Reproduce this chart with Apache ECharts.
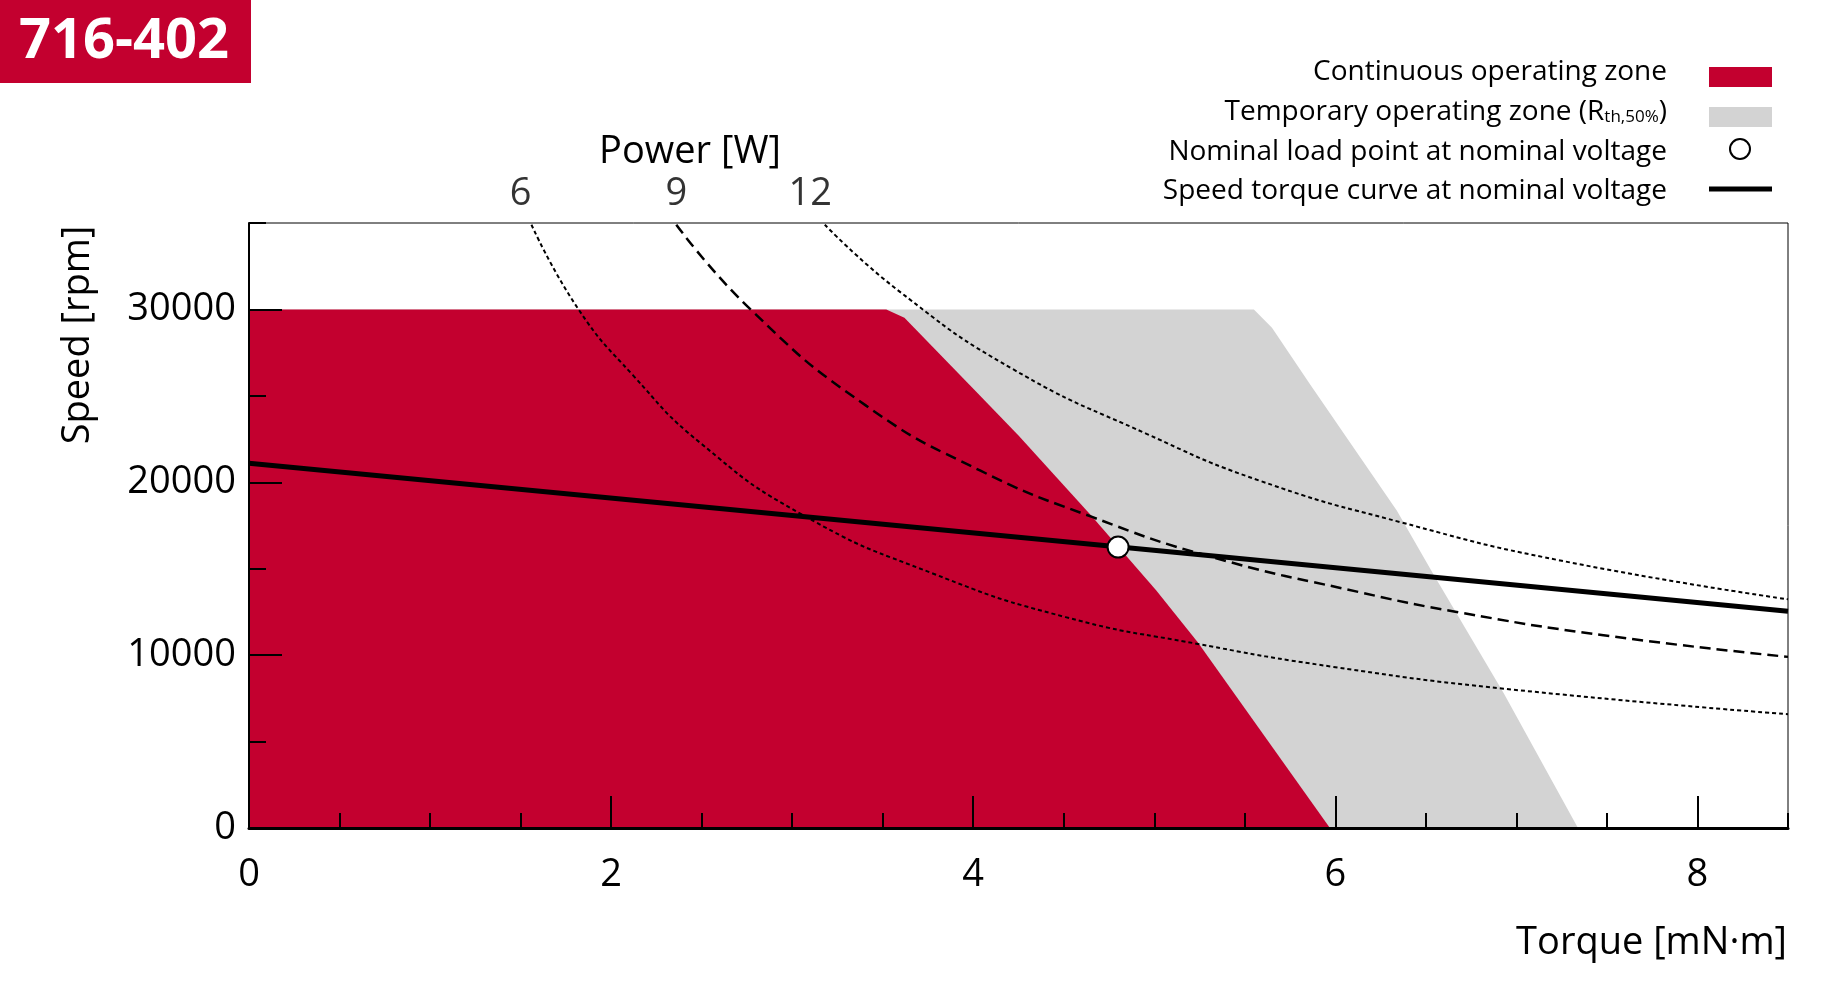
<!DOCTYPE html>
<html>
<head>
<meta charset="utf-8">
<script src="https://cdn.jsdelivr.net/npm/echarts@6/dist/echarts.min.js"></script>
<style>
html,body{margin:0;padding:0;background:#fff;}
#chart{width:1834px;height:992px;}
</style>
</head>
<body>
<div id="chart"></div>
<script>
// ---- data ----
const torqueMajorTicks = [0, 2, 4, 6, 8];
const speedMajorTicks = [0, 10000, 20000, 30000];

const continuousTorque = [0, 3.52, 3.62, 4.03, 4.25, 4.65, 5.01, 5.24, 5.97];
const continuousSpeed  = [30000, 30000, 29520, 25100, 22700, 18100, 13750, 10750, 0];

const temporaryTorque = [0, 5.55, 5.65, 5.86, 6.34, 6.54, 6.93, 7.34];
const temporarySpeed  = [30000, 30000, 28940, 25670, 18360, 14710, 7790, 0];

const speedCurveTorque = [0, 8.5];
const speedCurveSpeed  = [21100, 12540];

const nominalTorque = [4.80];
const nominalSpeed  = [16250];

const power6Torque = [1.56, 1.82, 2.12, 2.49, 3.06, 3.78, 4.51, 5.24, 5.99, 6.93, 8.5];
const power6Speed  = [34900, 30000, 26200, 22300, 18100, 14710, 12200, 10650, 9320, 8060, 6580];

const power9Torque = [2.36, 2.77, 3.41, 4.04, 4.66, 5.32, 6.13, 6.67, 7.48, 8.5];
const power9Speed  = [34900, 30000, 24420, 20670, 17980, 15670, 13650, 12500, 11150, 9900];

const power12Torque = [3.18, 3.59, 4.22, 4.96, 5.58, 6.36, 7.24, 8.5];
const power12Speed  = [34900, 31060, 26540, 22790, 20100, 17690, 15480, 13230];

const powerLabels = ['6', '9', '12'];
const powerLabelTorque = [1.50, 2.36, 3.10];
const powerLabelSpeed = [35000, 35000, 35000];

const legendLabels = [
  'Continuous operating zone',
  'Temporary operating zone',
  'Nominal load point at nominal voltage',
  'Speed torque curve at nominal voltage'
];

// ---- helpers ----
const zip = (a, b) => a.map((v, i) => [v, b[i]]);
const FONT = '"Open Sans", "Noto Sans", sans-serif';
const RED = '#c3002f';
const GRAY = '#d3d3d3';

const chart = echarts.init(document.getElementById('chart'), null, {renderer: 'canvas'});

const G = {left: 249, top: 223, width: 1539, height: 605};

const option = {
  animation: false,
  backgroundColor: '#fff',
  grid: {left: G.left, top: G.top, width: G.width, height: G.height, show: true,
         borderColor: '#000', borderWidth: 1, backgroundColor: 'transparent', containLabel: false},
  xAxis: [
    {
      type: 'value', min: 0, max: 8.5, position: 'bottom', z: 10,
      axisLine: {show: true, onZero: false, lineStyle: {color: '#000', width: 3}},
      axisTick: {show: true, inside: true, length: 32, lineStyle: {color: '#000', width: 2}, customValues: torqueMajorTicks},
      axisLabel: {show: true, customValues: torqueMajorTicks, color: '#000', fontSize: 38, fontFamily: FONT, margin: 28,
                  formatter: v => String(v)},
      splitLine: {show: false}
    },
    {
      type: 'value', min: 0, max: 8.5, interval: 0.5, position: 'bottom', z: 9,
      axisLine: {show: false, onZero: false},
      axisTick: {show: true, inside: true, length: 15, lineStyle: {color: '#000', width: 2}},
      axisLabel: {show: false},
      splitLine: {show: false}
    }
  ],
  yAxis: [
    {
      type: 'value', min: 0, max: 35000, position: 'left', z: 10,
      axisLine: {show: true, onZero: false, lineStyle: {color: '#000', width: 2}},
      axisTick: {show: true, inside: true, length: 33, lineStyle: {color: '#000', width: 2}, customValues: speedMajorTicks},
      axisLabel: {show: true, customValues: speedMajorTicks, color: '#000', fontSize: 38, fontFamily: FONT, margin: 13,
                  formatter: v => String(v)},
      splitLine: {show: false}
    },
    {
      type: 'value', min: 0, max: 35000, interval: 5000, position: 'left', z: 9,
      axisLine: {show: false, onZero: false},
      axisTick: {show: true, inside: true, length: 17, lineStyle: {color: '#000', width: 2}},
      axisLabel: {show: false},
      splitLine: {show: false}
    }
  ],
  series: [
    {
      name: 'temporary', type: 'line', z: 1, data: zip(temporaryTorque, temporarySpeed),
      symbol: 'none', lineStyle: {width: 0, color: GRAY}, areaStyle: {color: GRAY, opacity: 1}, silent: true
    },
    {
      name: 'continuous', type: 'line', z: 2, data: zip(continuousTorque, continuousSpeed),
      symbol: 'none', lineStyle: {width: 0, color: RED}, areaStyle: {color: RED, opacity: 1}, silent: true
    },
    {
      name: 'P6', type: 'line', z: 3, data: zip(power6Torque, power6Speed), smooth: 0.5,
      symbol: 'none', lineStyle: {color: '#000', width: 2, type: [4, 3]}
    },
    {
      name: 'P9', type: 'line', z: 3, data: zip(power9Torque, power9Speed), smooth: 0.5,
      symbol: 'none', lineStyle: {color: '#000', width: 2.5, type: [11, 6]}
    },
    {
      name: 'P12', type: 'line', z: 3, data: zip(power12Torque, power12Speed), smooth: 0.5,
      symbol: 'none', lineStyle: {color: '#000', width: 2, type: [4, 3]}
    },
    {
      name: 'speedCurve', type: 'line', z: 4, data: zip(speedCurveTorque, speedCurveSpeed),
      symbol: 'none', lineStyle: {color: '#000', width: 5}
    },
    {
      name: 'nominal', type: 'scatter', z: 5, data: zip(nominalTorque, nominalSpeed),
      symbol: 'circle', symbolSize: 21,
      itemStyle: {color: '#fff', borderColor: '#000', borderWidth: 2, opacity: 1}
    },
    {
      name: 'powerLabels', type: 'scatter', z: 5, clip: false,
      data: powerLabels.map((p, i) => ({value: [powerLabelTorque[i], powerLabelSpeed[i]], name: p})),
      symbolSize: 0,
      label: {show: true, position: 'top', distance: 10, formatter: p => p.name,
              color: '#000', fontSize: 38, fontFamily: FONT}
    }
  ],
  graphic: [
    {type: 'rect', left: 0, top: 0, shape: {width: 251, height: 83}, style: {fill: RED}, z: 20},
    {type: 'text', x: 124, y: 42, z: 21,
     style: {text: '716-402', fill: '#fff', font: 'bold 56px ' + FONT, textAlign: 'center', textVerticalAlign: 'middle'}},
    {type: 'text', x: 690, y: 152, z: 21,
     style: {text: 'Power [W]', fill: '#000', font: '38px ' + FONT, textAlign: 'center', textVerticalAlign: 'middle'}},
    {type: 'text', x: 78, y: 335, rotation: Math.PI / 2, z: 21,
     style: {text: 'Speed [rpm]', fill: '#000', font: '38px ' + FONT, textAlign: 'center', textVerticalAlign: 'middle'}},
    {type: 'text', x: 1787, y: 943, z: 21,
     style: {text: 'Torque [mN·m]', fill: '#000', font: '38px ' + FONT, textAlign: 'right', textVerticalAlign: 'middle'}},
    // legend
    {type: 'text', x: 1667, y: 72, z: 21,
     style: {text: legendLabels[0], fill: '#000', font: '28px ' + FONT, textAlign: 'right', textVerticalAlign: 'middle'}},
    {type: 'text', x: 1667, y: 112, z: 21,
     style: {text: '{a|' + legendLabels[1] + ' (R}{s|th,50%}{a|)}', textAlign: 'right', textVerticalAlign: 'middle',
       rich: {a: {fill: '#000', font: '28px ' + FONT}, s: {fill: '#000', font: '17px ' + FONT, padding: [11, 0, 0, 0]}}}},
    {type: 'text', x: 1667, y: 152, z: 21,
     style: {text: legendLabels[2], fill: '#000', font: '28px ' + FONT, textAlign: 'right', textVerticalAlign: 'middle'}},
    {type: 'text', x: 1667, y: 191, z: 21,
     style: {text: legendLabels[3], fill: '#000', font: '28px ' + FONT, textAlign: 'right', textVerticalAlign: 'middle'}},
    {type: 'rect', x: 1709, y: 67, shape: {width: 63, height: 20}, style: {fill: RED}, z: 21},
    {type: 'rect', x: 1709, y: 107, shape: {width: 63, height: 20}, style: {fill: GRAY}, z: 21},
    {type: 'circle', x: 1740, y: 149, shape: {r: 10}, style: {fill: '#fff', stroke: '#000', lineWidth: 2}, z: 21},
    {type: 'line', shape: {x1: 1709, y1: 189, x2: 1772, y2: 189}, style: {stroke: '#000', lineWidth: 5}, z: 21}
  ]
};

chart.setOption(option);
</script>
</body>
</html>
